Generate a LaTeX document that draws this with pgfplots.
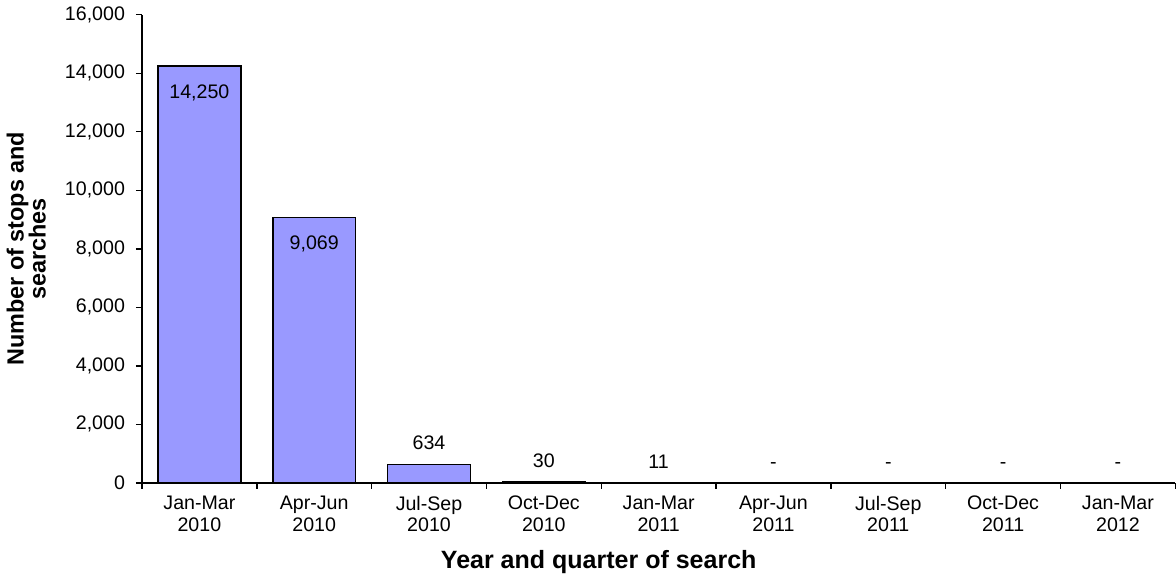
\documentclass[border=0pt]{standalone}
\usepackage{pgfplots}
\pgfplotsset{compat=1.18}
\usepackage{fontspec}
\setmainfont{Liberation Sans}
\definecolor{barfill}{RGB}{153,153,255}

\begin{document}
\begin{tikzpicture}
\begin{axis}[
  scale only axis,
  width=516.5pt, height=234pt,
  axis lines=left,
  axis line style={black, line width=0.7pt, -},
  xmin=-0.5, xmax=8.5,
  ymin=0, ymax=16000,
  ytick={0,2000,...,16000},
  scaled y ticks=false,
  /pgf/number format/assume math mode=true,
  yticklabel style={font=\fontsize{9.8pt}{11pt}\selectfont, xshift=-2pt,
    /pgf/number format/fixed, /pgf/number format/1000 sep={,}},
  xtick={0,...,8},
  xticklabels={{Jan-Mar\\2010},{Apr-Jun\\2010},{Jul-Sep\\2010},{Oct-Dec\\2010},{Jan-Mar\\2011},{Apr-Jun\\2011},{Jul-Sep\\2011},{Oct-Dec\\2011},{Jan-Mar\\2012}},
  xticklabel style={align=center, font=\fontsize{9.8pt}{10.8pt}\selectfont},
  every major x tick/.append style={draw=none},
  minor xtick={-0.5,0.5,...,8.5},
  every minor x tick/.append style={black, line width=0.7pt},
  tick align=outside,
  major tick length=3pt, minor tick length=3pt,
  every tick/.append style={black, line width=0.7pt},
  xlabel={Year and quarter of search},
  xlabel style={at={(axis description cs:0.442,-0.169)}, anchor=center, font=\bfseries\fontsize{12.5pt}{14pt}\selectfont},
  ylabel={Number of stops and\\searches},
  ylabel style={at={(axis description cs:-0.112,0.5)}, anchor=center, align=center, font=\bfseries\fontsize{11.7pt}{11pt}\selectfont},
  ybar, bar width=0.72,
  point meta=explicit symbolic,
  nodes near coords={\pgfplotspointmeta},
  every node near coord/.append style={font=\fontsize{9.8pt}{11pt}\selectfont, black},
]
% large bars, labels inside
\addplot[ybar, bar shift=0pt, fill=barfill, draw=black, line width=0.8pt,
  every node near coord/.append style={anchor=north, yshift=-5.5pt}]
  table[x=x, y=y, meta=lab] {
x y lab
0 14250 14,250
1 9069 9,069
};
% small bars, labels above
\addplot[ybar, bar shift=0pt, fill=barfill, draw=black, line width=0.8pt,
  every node near coord/.append style={anchor=south, yshift=3.5pt}]
  table[x=x, y=y, meta=lab] {
x y lab
2 634 634
3 30 30
4 11 11
};
% empty quarters
\addplot[ybar, bar shift=0pt, draw=none, fill=none,
  every node near coord/.append style={anchor=south, yshift=3.5pt}]
  table[x=x, y=y, meta=lab] {
x y lab
5 0 -
6 0 -
7 0 -
8 0 -
};
\end{axis}
\end{tikzpicture}
\end{document}
